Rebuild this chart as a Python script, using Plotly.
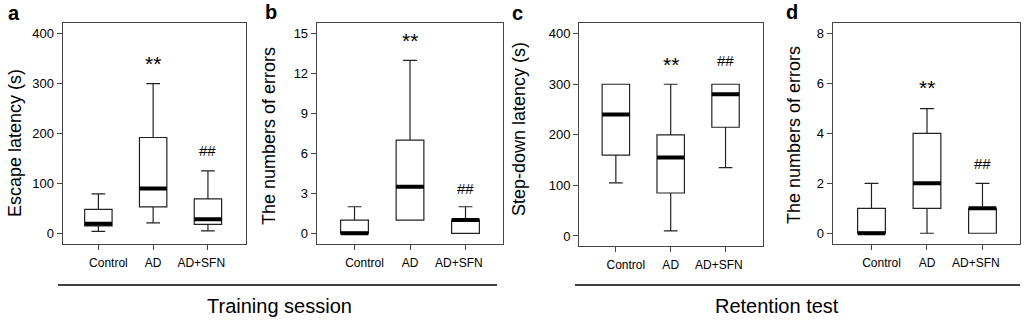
import plotly.graph_objects as go

# ---------------- data ----------------
categories = ["Control", "AD", "AD+SFN"]

# panel a: escape latency (s), training session
a_low = [4, 21, 5]
a_q1 = [15, 53, 18]
a_med = [19, 90, 28]
a_q3 = [48, 192, 69]
a_high = [79, 300, 125]

# panel b: number of errors, training session
b_low = [0, 1, 0]
b_q1 = [0, 1, 0]
b_med = [0, 3.5, 1]
b_q3 = [1, 7, 1]
b_high = [2, 13, 2]

# panel c: step-down latency (s), retention test
c_low = [105, 10, 135]
c_q1 = [160, 85, 215]
c_med = [240, 155, 280]
c_q3 = [300, 200, 300]
c_high = [300, 300, 300]

# panel d: number of errors, retention test
d_low = [0, 0, 0]
d_q1 = [0, 1, 0]
d_med = [0, 2, 1]
d_q3 = [1, 4, 1]
d_high = [2, 5, 2]

# significance marks: (category index, y value, text)
a_marks = [(1, 340, "**"), (2, 165, "##")]
b_marks = [(1, 14.5, "**"), (2, 3.4, "##")]
c_marks = [(1, 339, "**"), (2, 346, "##")]
d_marks = [(1, 5.85, "**"), (2, 2.78, "##")]

y_titles = ["Escape latency (s)", "The numbers of errors",
            "Step-down latency (s)", "The numbers of errors"]
panel_letters = ["a", "b", "c", "d"]
y_ticks = [[0, 100, 200, 300, 400], [0, 3, 6, 9, 12, 15],
           [0, 100, 200, 300, 400], [0, 2, 4, 6, 8]]
group_titles = ["Training session", "Retention test"]

# ---------------- layout constants ----------------
W, H = 1024, 323
FONT = "Liberation Sans, Arial, sans-serif"
BOX_W = 0.5
x_domains = [(62.5, 246), (316.7, 502.7), (579, 763), (832.7, 1020)]
y_bottoms = [244, 244, 246, 244]
y_top = 22.7
x_ranges = [(-0.655, 2.695), (-0.681, 2.67), (-0.672, 2.683), (-0.699, 2.676)]
y_ranges = [(-21.4, 422), (-0.8, 15.83), (-19.8, 421.7), (-0.43, 8.44)]
ytitle_pos = [(15, 143), (269, 136), (519, 129), (794, 135)]
letter_pos = [(13.5, 12.5), (271, 12), (517.5, 13), (791.5, 12)]

panels = [
    (a_low, a_q1, a_med, a_q3, a_high, a_marks),
    (b_low, b_q1, b_med, b_q3, b_high, b_marks),
    (c_low, c_q1, c_med, c_q3, c_high, c_marks),
    (d_low, d_q1, d_med, d_q3, d_high, d_marks),
]

NB = "\u00a0"
tick_text = [NB * 6 + categories[0], categories[1], categories[2] + NB * 4]

fig = go.Figure()
annotations = []
for i, (lo, q1, med, q3, hi, marks) in enumerate(panels):
    n = i + 1
    xa = "x" if n == 1 else f"x{n}"
    ya = "y" if n == 1 else f"y{n}"
    xs = list(range(len(categories)))
    fig.add_trace(go.Box(
        x=xs, q1=q1, median=med, q3=q3, lowerfence=lo, upperfence=hi,
        width=BOX_W, whiskerwidth=0.5, fillcolor="white",
        line=dict(color="#222222", width=1.2), boxpoints=False,
        xaxis=xa, yaxis=ya, showlegend=False, hoverinfo="skip"))
    # thick median bars
    mx, my = [], []
    for k, m in enumerate(med):
        mx += [k - BOX_W / 2, k + BOX_W / 2, None]
        my += [m, m, None]
    fig.add_trace(go.Scatter(x=mx, y=my, mode="lines",
                             line=dict(color="black", width=4),
                             xaxis=xa, yaxis=ya, showlegend=False, hoverinfo="skip"))
    for (k, yv, txt) in marks:
        annotations.append(dict(
            x=k, y=yv, xref=xa, yref=ya, text=txt, showarrow=False,
            font=dict(family=FONT, size=21 if txt == "**" else 15, color="black"),
            xanchor="center", yanchor="middle"))
    xd = x_domains[i]
    yb = y_bottoms[i]
    axis_common = dict(showline=True, mirror=True, linecolor="#444444", linewidth=1,
                       showgrid=False, zeroline=False, ticks="outside",
                       tickcolor="#444444", tickwidth=1)
    fig.layout[f"xaxis{'' if n == 1 else n}"] = dict(
        domain=[xd[0] / W, xd[1] / W], range=list(x_ranges[i]),
        anchor=ya, tickvals=xs, ticktext=tick_text, ticklen=5,
        ticklabelstandoff=3,
        tickfont=dict(family=FONT, size=12, color="black"), **axis_common)
    fig.layout[f"yaxis{'' if n == 1 else n}"] = dict(
        domain=[1 - yb / H, 1 - y_top / H], range=list(y_ranges[i]),
        anchor=xa, tickvals=y_ticks[i], ticklen=5,
        tickfont=dict(family=FONT, size=13, color="black"), **axis_common)
    tx, ty = ytitle_pos[i]
    annotations.append(dict(x=tx / W, y=1 - ty / H, xref="paper", yref="paper",
                            text=y_titles[i], textangle=-90, showarrow=False,
                            font=dict(family=FONT, size=18, color="black"),
                            xanchor="center", yanchor="middle"))
    lx, ly = letter_pos[i]
    annotations.append(dict(x=lx / W, y=1 - ly / H, xref="paper", yref="paper",
                            text=f"<b>{panel_letters[i]}</b>", showarrow=False,
                            font=dict(family=FONT, size=20, color="black"),
                            xanchor="center", yanchor="middle"))

# group lines and titles
group_lines = [(58, 497), (575, 1020)]
group_title_x = [279, 777]
shapes = []
for (x0, x1), gx, gt in zip(group_lines, group_title_x, group_titles):
    shapes.append(dict(type="line", xref="paper", yref="paper",
                       x0=x0 / W, x1=x1 / W, y0=1 - 285 / H, y1=1 - 285 / H,
                       line=dict(color="black", width=1.5)))
    annotations.append(dict(x=gx / W, y=1 - 306 / H, xref="paper", yref="paper",
                            text=gt, showarrow=False,
                            font=dict(family=FONT, size=20, color="black"),
                            xanchor="center", yanchor="middle"))

fig.update_layout(width=W, height=H, margin=dict(l=0, r=0, t=0, b=0),
                  paper_bgcolor="white", plot_bgcolor="white",
                  annotations=annotations, shapes=shapes,
                  font=dict(family=FONT))
fig.write_html("out.html", config={"displayModeBar": False},
               post_script="document.body.style.margin='0';document.body.style.padding='0';document.body.style.overflow='hidden';")
